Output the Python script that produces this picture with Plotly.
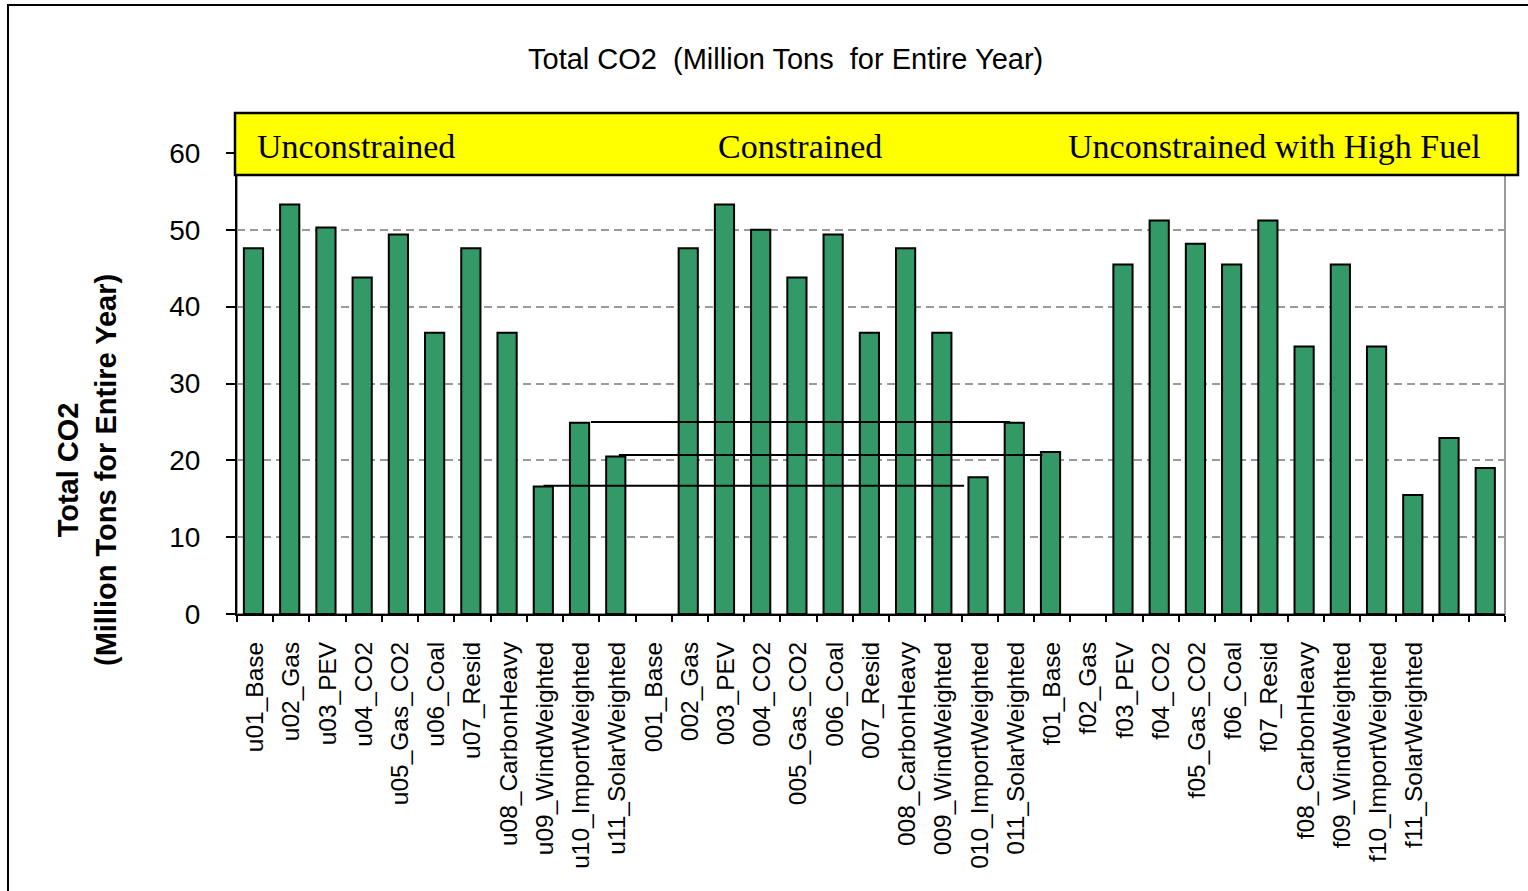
import plotly.graph_objects as go

# ---------------- data ----------------
tick_labels = [
    "u01_Base", "u02_Gas", "u03_PEV", "u04_CO2", "u05_Gas_CO2", "u06_Coal",
    "u07_Resid", "u08_CarbonHeavy", "u09_WindWeighted", "u10_ImportWeighted",
    "u11_SolarWeighted",
    "001_Base", "002_Gas", "003_PEV", "004_CO2", "005_Gas_CO2", "006_Coal",
    "007_Resid", "008_CarbonHeavy", "009_WindWeighted", "010_ImportWeighted",
    "011_SolarWeighted",
    "f01_Base", "f02_Gas", "f03_PEV", "f04_CO2", "f05_Gas_CO2", "f06_Coal",
    "f07_Resid", "f08_CarbonHeavy", "f09_WindWeighted", "f10_ImportWeighted",
    "f11_SolarWeighted",
]
n_slots = 35  # 33 labelled slots + 2 unlabelled slots at the end

unconstrained = [47.6, 53.3, 50.3, 43.8, 49.4, 36.6, 47.6, 36.6, 16.6, 24.9, 20.5]
constrained = [47.6, 53.3, 50.0, 43.8, 49.4, 36.6, 47.6, 36.6, 17.8, 24.9, 21.1]
high_fuel = [45.5, 51.2, 48.2, 45.5, 51.2, 34.8, 45.5, 34.8, 15.5, 22.9, 19.0]
group_values = [unconstrained, constrained, high_fuel]
group_start_slot = [0, 12, 24]
group_names = ["Unconstrained", "Constrained", "Unconstrained with High Fuel"]

# comparison connector lines (slot units)
conn_level = [25.0, 20.7, 16.7]
conn_x_start = [9.27, 10.04, 7.96]
conn_x_end = [20.84, 21.73, 19.57]

# ---------------- figure ----------------
L, R, T, B = 237, 23, 153, 277
W, H = 1528, 891
pw, ph = W - L - R, H - T - B


def px_x(p):
    return (p - L) / pw


def px_y(p):
    return (H - B - p) / ph


fig = go.Figure()

bar_x, bar_y = [], []
for start, vals in zip(group_start_slot, group_values):
    for i, v in enumerate(vals):
        bar_x.append(start + i)
        bar_y.append(v)

fig.add_trace(go.Bar(
    x=bar_x, y=bar_y, offset=-0.31, width=0.53,
    marker=dict(color="#339966", line=dict(color="black", width=2)),
    showlegend=False, hoverinfo="x+y",
))

for lv, xs, xe in zip(conn_level, conn_x_start, conn_x_end):
    fig.add_trace(go.Scatter(
        x=[xs, xe], y=[lv, lv], mode="lines",
        line=dict(color="black", width=2), showlegend=False, hoverinfo="skip",
    ))

shapes = [
    # outer chart border
    dict(type="rect", xref="paper", yref="paper",
         x0=px_x(8), x1=px_x(1540), y0=px_y(900), y1=px_y(5),
         line=dict(color="black", width=2), fillcolor="rgba(0,0,0,0)", layer="below"),
    # plot area border (gray)
    dict(type="rect", xref="paper", yref="paper", x0=0, x1=1, y0=0, y1=1,
         line=dict(color="#9a9a9a", width=2), fillcolor="rgba(0,0,0,0)", layer="below"),
    # yellow scenario banner
    dict(type="rect", xref="paper", yref="paper",
         x0=px_x(235), x1=px_x(1518), y0=px_y(175), y1=px_y(113),
         line=dict(color="black", width=2.5), fillcolor="#FFFF00", layer="above"),
]

banner_left_px = [255, 716, 1066]
annotations = [
    dict(text=name, xref="paper", yref="paper", x=px_x(xl), y=px_y(146),
         xanchor="left", yanchor="middle", showarrow=False,
         font=dict(family="Liberation Serif, Times New Roman", size=34, color="black"))
    for name, xl in zip(group_names, banner_left_px)
]
annotations.append(dict(
    text="Total CO2 \u00a0(Million Tons \u00a0for Entire Year)", xref="paper", yref="paper",
    x=px_x(785), y=px_y(59), xanchor="center", yanchor="middle", showarrow=False,
    font=dict(family="Liberation Sans, Arial", size=29, color="black")))
annotations.append(dict(
    text="<b>Total CO2</b><br><b>(Million Tons for Entire Year)</b>",
    xref="paper", yref="paper", x=px_x(87), y=px_y(470), textangle=-90,
    xanchor="center", yanchor="middle", showarrow=False,
    font=dict(family="Liberation Sans, Arial", size=29, color="black")))

fig.update_layout(
    width=W, height=H,
    margin=dict(l=L, r=R, t=T, b=B, autoexpand=False),
    paper_bgcolor="white", plot_bgcolor="white",
    shapes=shapes, annotations=annotations,
    font=dict(family="Liberation Sans, Arial", color="black"),
)

fig.update_xaxes(
    range=[-0.5, n_slots - 0.5],
    tickmode="array", tickvals=list(range(len(tick_labels))), ticktext=tick_labels,
    tickangle=-90, ticks="", ticklabelstandoff=16,
    tickfont=dict(family="Liberation Sans, Arial", size=24.5, color="black"),
    minor=dict(tick0=-0.5, dtick=1, ticks="outside", ticklen=6, tickwidth=2,
               tickcolor="black", showgrid=False),
    showline=True, linecolor="black", linewidth=2,
    showgrid=False, zeroline=False, automargin=False, fixedrange=True,
)
fig.update_yaxes(
    range=[0, 60], dtick=10, tick0=0,
    ticks="outside", ticklen=9, tickwidth=2, tickcolor="black",
    ticklabelstandoff=20,
    tickfont=dict(family="Liberation Sans, Arial", size=28, color="black"),
    showline=True, linecolor="black", linewidth=2,
    showgrid=True, gridcolor="#9a9a9a", gridwidth=2, griddash="8px,5px",
    zeroline=False, automargin=False, fixedrange=True,
)

fig.write_html("out.html")
